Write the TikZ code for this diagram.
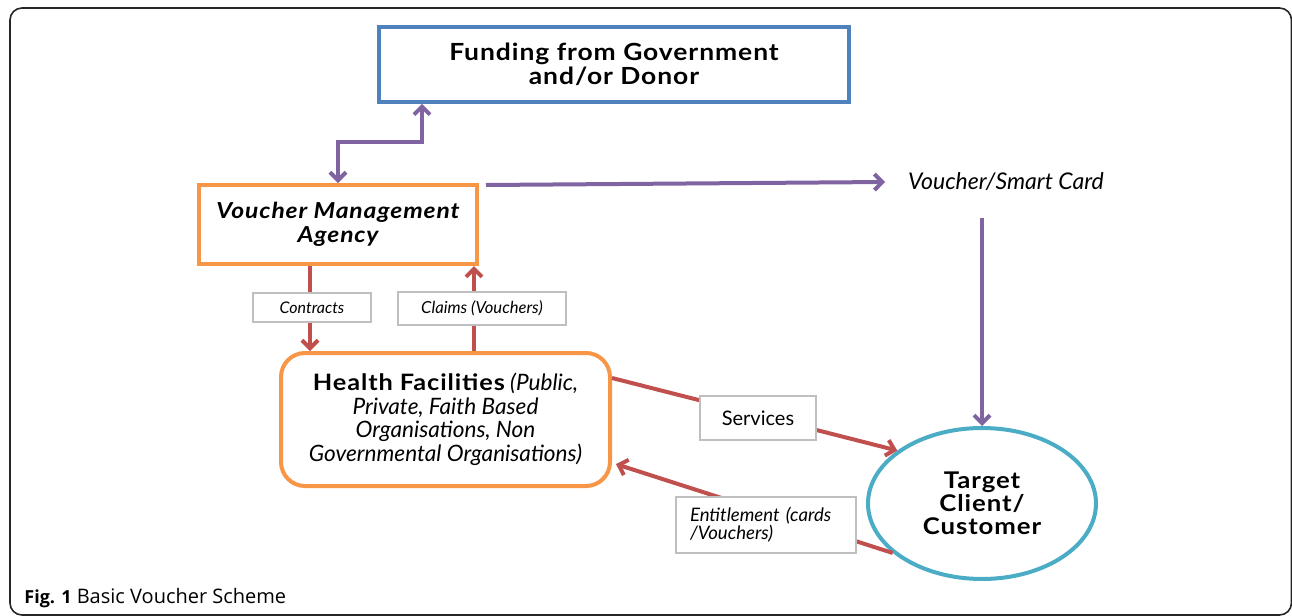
\documentclass[tikz,border=0pt]{standalone}
\usepackage{fontspec}
\setmainfont{Lato}
\newfontfamily\widebf[FakeStretch=1.12, LetterSpace=4]{Lato}
\newfontfamily\capfont{Open Sans}
\usetikzlibrary{arrows.meta,shapes.geometric}
\definecolor{fundblue}{HTML}{4F81BD}
\definecolor{agorange}{HTML}{F79646}
\definecolor{flowpurple}{HTML}{8064A2}
\definecolor{flowred}{HTML}{C0504D}
\definecolor{clientcyan}{HTML}{4BACC6}
\definecolor{tagframe}{HTML}{BFBFBF}

\tikzset{
  purparr/.style={flowpurple, line width=2pt, -{Straight Barb[length=4pt,width=8pt]}},
  redarr/.style={flowred, line width=2pt, -{Straight Barb[length=4pt,width=8pt]}},
  tagbox/.style={draw=tagframe, line width=0.6pt, fill=white, inner sep=0pt, align=center},
}

\begin{document}
\begin{tikzpicture}[x=0.5pt, y=-0.5pt]
            \useasboundingbox (0,0) rectangle (1292,616);
            \draw[black!85, line width=0.8pt, rounded corners=6pt] (10,8) rectangle (1291.5,615);

            \node[draw=fundblue, line width=1.8pt, minimum width=235pt, minimum height=37.5pt, align=center,
                  font=\widebf\fontsize{11.8}{12}\bfseries] (fund) at (614,64.5) {Funding from Government\\and/or Donor};
            \node[draw=agorange, line width=2pt, minimum width=139pt, minimum height=39.5pt, align=center,
                  font=\widebf\fontsize{11}{12}\bfseries\itshape] (vma) at (338,224.5) {Voucher Management\\Agency};
            \node[draw=agorange, line width=2pt, rounded corners=12pt, minimum width=164.5pt, minimum height=66.5pt,
                  align=center, font=\fontsize{11.3}{11.75}\itshape] (hf) at (445.5,419.5)
                  {{\widebf\upshape\bfseries Health Facilities} (Public,\\Private, Faith Based\\Organisations, Non\\Governmental Organisations)};
            \node[draw=clientcyan, line width=2pt, ellipse, minimum width=114pt, minimum height=75.5pt, inner sep=0pt,
                  align=center, font=\widebf\fontsize{11.5}{11.5}\bfseries] (target) at (982,503.5) {Target\\Client/\\Customer};
            \node[font=\fontsize{11.5}{12}\itshape] (card) at (1006,182) {Voucher/Smart Card};

            \coordinate (bend) at (422,142);
            \coordinate (vtop) at (982,218);
            \coordinate (ct) at (310,266);
            \coordinate (cl) at (474,266);

            \draw[purparr, {Straight Barb[length=4pt,width=8pt]}-{Straight Barb[length=4pt,width=8pt]}]
                  (vma.north) |- (bend) -- (bend |- fund.south);
            \draw[purparr] ([shift={(3.5pt,-1pt)}]vma.north east) -- ([xshift=-8pt]card.west);
            \draw[purparr] (vtop) -- (target.north);

            \draw[redarr] (ct) -- (ct |- hf.north);
            \draw[redarr] (cl |- hf.north) -- (cl);
            \draw[redarr] (hf.14.5) -- (target.148);
            \draw[redarr] (target.209) -- ([xshift=2pt]hf.-15.5);

            \node[tagbox, minimum width=59pt, minimum height=14.5pt, font=\fontsize{8}{9}\itshape] (contr) at (312,307.5) {Contracts};
            \node[tagbox, minimum width=84pt, minimum height=16.5pt, font=\fontsize{8.3}{9}\itshape] (claims) at (482,308.5) {Claims (Vouchers)};
            \node[tagbox, minimum width=58pt, minimum height=22pt, font=\fontsize{11}{12}] (serv) at (758,418) {Services};
            \node[tagbox, minimum width=90pt, minimum height=28pt, text width=76pt, align=left,
                  font=\fontsize{9.3}{9}\itshape] (entit) at (766,525) {Entitlement (cards\\/Vouchers)};

            \node[anchor=base west, inner sep=0pt, font=\capfont\fontsize{9}{11}] (cap) at (24,603)
                  {\textbf{Fig. 1} Basic Voucher Scheme};
        \end{tikzpicture}
\end{document}
